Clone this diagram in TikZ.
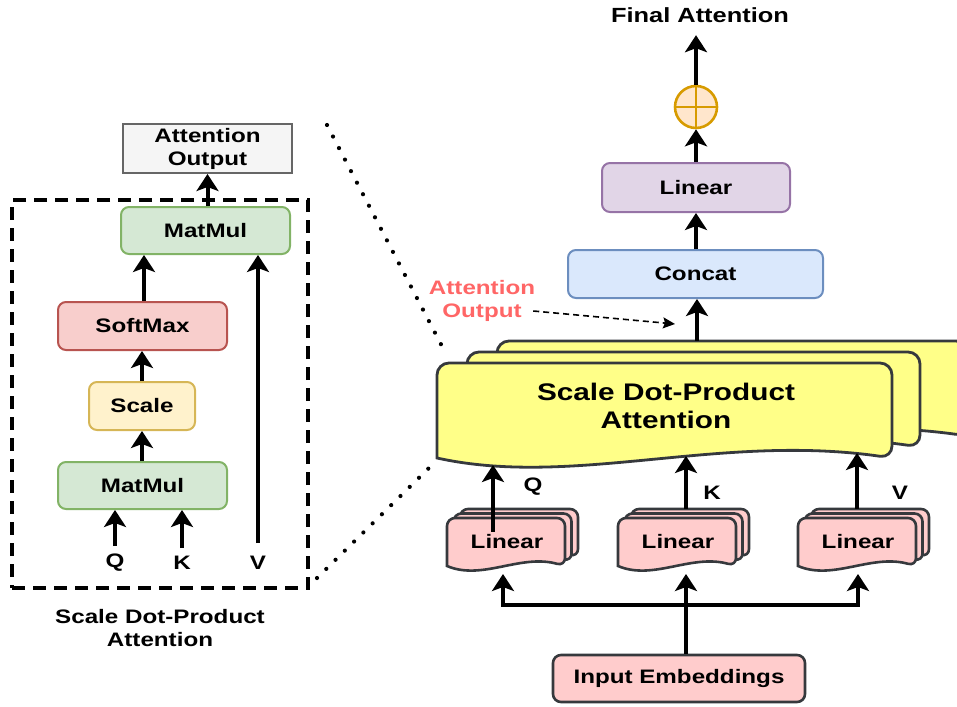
\documentclass[tikz,border=0pt]{standalone}
\usepackage{fontspec}
\setmainfont{Liberation Sans}[FakeStretch=1.24]
\usetikzlibrary{arrows.meta,calc}
\definecolor{grayfill}{HTML}{F5F5F5}\definecolor{graydraw}{HTML}{666666}
\definecolor{greenfill}{HTML}{D5E8D4}\definecolor{greendraw}{HTML}{82B366}
\definecolor{redfill}{HTML}{F8CECC}\definecolor{reddraw}{HTML}{B85450}
\definecolor{yelfill}{HTML}{FFF2CC}\definecolor{yeldraw}{HTML}{D6B656}
\definecolor{purfill}{HTML}{E1D5E7}\definecolor{purdraw}{HTML}{9673A6}
\definecolor{bluefill}{HTML}{DAE8FC}\definecolor{bluedraw}{HTML}{6C8EBF}
\definecolor{orfill}{HTML}{FFE6CC}\definecolor{ordraw}{HTML}{D79B00}
\definecolor{notefill}{HTML}{FFFF88}\definecolor{darkline}{HTML}{36393D}
\definecolor{pinkfill}{HTML}{FFCCCC}\definecolor{labelred}{HTML}{FF6666}
\newcommand\docshape[7]{%
  \pgfmathsetmacro\dsw{(#3)-(#1)}%
  \path[#6] (#1,#4) [rounded corners=#7] -- (#1,#2) -- (#3,#2) -- (#3,#4) [sharp corners]
    .. controls ({#3-0.38*\dsw},{#4-2.5*#5}) and ({#1+0.3*\dsw},{#4+3*#5}) .. (#1,#4) -- cycle;
}
\newcommand\linearstack[3]{%
  \foreach \k in {2,1,0} {\docshape{#1+6.5*\k}{#2-4.5*\k}{#1+118+6.5*\k}{#2+48-4.5*\k}{5}{linshape}{8pt}}
  \node[lbl] (#3) at (#1+60,#2+24) {Linear};
  \coordinate (#3top) at (#1+59,#2-9);
}
\begin{document}
\begin{tikzpicture}[x=1pt,y=-1pt,
  lbl/.style={font=\fontsize{19.5}{23}\selectfont\bfseries, align=center, inner sep=0pt},
  box/.style={lbl, draw, line width=2pt, rounded corners=8pt},
  linshape/.style={fill=pinkfill, draw=darkline, line width=2.6pt},
  sdpashape/.style={fill=notefill, draw=darkline, line width=2.8pt},
  arr/.style={line width=4pt, -{Stealth[length=17pt,width=22pt,inset=4pt]}},
  qkv/.style={lbl, inner ysep=8pt},
  dotline/.style={line width=4.2pt, line cap=round, dash pattern=on 0pt off 13pt},
]
\useasboundingbox (0,0) rectangle (957,706);
% ---------- left panel ----------
\node[lbl, draw=graydraw, fill=grayfill, line width=2pt, minimum width=169pt, minimum height=49pt] (ao) at (207.5,148.5) {Attention\\Output};
\node[draw, line width=4pt, dash pattern=on 13pt off 8pt, minimum width=296pt, minimum height=388pt, inner sep=0pt] (dbox) at (160,394) {};
\node[box, fill=greenfill, draw=greendraw, minimum width=169pt, minimum height=47pt] (mm2) at (205.5,230.5) {MatMul};
\node[box, fill=redfill, draw=reddraw, minimum width=169pt, minimum height=48pt] (sm) at (142.5,326) {SoftMax};
\node[box, fill=yelfill, draw=yeldraw, minimum width=106pt, minimum height=48pt] (sc) at (142,406) {Scale};
\node[box, fill=greenfill, draw=greendraw, minimum width=169pt, minimum height=47pt] (mm1) at (142.5,485.5) {MatMul};
\node[qkv] (ql) at (115,563) {Q};
\node[qkv] (kl) at (182,563) {K};
\node[qkv] (vl) at (258,563) {V};
\node[lbl] (cap) at (160,628) {Scale Dot-Product\\Attention};
\draw[arr] (mm2.north -| ao) -- (ao.south);
\draw[arr] (sm.north -| 144,0) -- (mm2.south -| 144,0);
\draw[arr] (sc.north) -- (sm.south -| sc.north);
\draw[arr] (mm1.north -| sc.north) -- (sc.south);
\draw[arr] (ql.north) -- (mm1.south -| ql.north);
\draw[arr] (kl.north) -- (mm1.south -| kl.north);
\draw[arr] ([yshift=5pt]vl.north) -- (mm2.south -| vl.north);
% ---------- dotted zoom lines ----------
\coordinate (d1a) at (327,125); \coordinate (d1b) at (445,352);
\coordinate (d2a) at (317,578); \coordinate (d2b) at (432,465);
\draw[dotline] (d1a) -- (d1b);
\draw[dotline] (d2a) -- (d2b);
% ---------- right panel ----------
\node[lbl, font=\fontsize{20.5}{24}\selectfont\bfseries, minimum height=40pt] (fa) at (700,15) {Final Attention};
\node[circle, fill=orfill, draw=ordraw, line width=2.6pt, minimum size=42pt, inner sep=0pt,
  path picture={\draw[ordraw, line width=2.6pt] (path picture bounding box.north) -- (path picture bounding box.south)
   (path picture bounding box.west) -- (path picture bounding box.east);}] (plus) at (696,107) {};
\node[box, fill=purfill, draw=purdraw, minimum width=188pt, minimum height=49pt] (lin) at (696,187.5) {Linear};
\node[box, fill=bluefill, draw=bluedraw, minimum width=255pt, minimum height=48pt] (cc) at (695.5,274) {Concat};
\draw[arr] (plus.north) -- (fa.south -| plus.north);
\draw[arr] (lin.north -| plus) -- (plus.south);
\draw[arr] (cc.north -| plus) -- (lin.south -| plus);
% SDPA stack
\docshape{497}{341}{968}{436}{10}{sdpashape}{12pt}
\docshape{467}{352}{920}{447}{10}{sdpashape}{12pt}
\docshape{437}{363}{892}{458}{10}{sdpashape}{12pt}
\node[lbl, font=\fontsize{24}{28}\selectfont\bfseries] (sdpa) at (666,406) {Scale Dot-Product\\Attention};
\coordinate (sdpatop) at (697,341);
\coordinate (qin) at (493,465); \coordinate (kin) at (686,456); \coordinate (vin) at (857,453);
\draw[arr] (sdpatop) -- (cc.south -| sdpatop);
% attention output label
\node[lbl, text=labelred] (attl) at (482,301) {Attention\\Output};
\coordinate (dtip) at (675,324);
\draw[line width=1.6pt, dash pattern=on 6pt off 4pt, -{Stealth[length=12pt,width=11pt,inset=2pt]}] ($(attl.east)+(-2,10)$) -- (dtip);
% Linear stacks
\linearstack{447}{518}{linq}
\linearstack{618}{518}{link}
\linearstack{798}{518}{linv}
\node[box, fill=pinkfill, draw=darkline, line width=2.6pt, minimum width=252pt, minimum height=47pt] (emb) at (679,678.5) {Input Embeddings};
\draw[arr] (linq.north -| qin) ++(0,-3) -- (qin);
\draw[arr] (linktop -| kin) -- (kin);
\draw[arr] (linvtop -| vin) -- (vin);
\node[lbl] (qlab) at (533,487) {Q};
\node[lbl] (klab) at (712,493) {K};
\node[lbl] (vlab) at (900,493) {V};
% embeddings fan-out
\coordinate (split) at (686,605);
\coordinate (qbot) at (503,574); \coordinate (kbot) at (686,574); \coordinate (vbot) at (858,574);
\draw[arr] (emb.north -| split) -- (kbot);
\draw[arr] (split) -| (qbot);
\draw[arr] (split) -| (vbot);
\end{tikzpicture}
\end{document}
